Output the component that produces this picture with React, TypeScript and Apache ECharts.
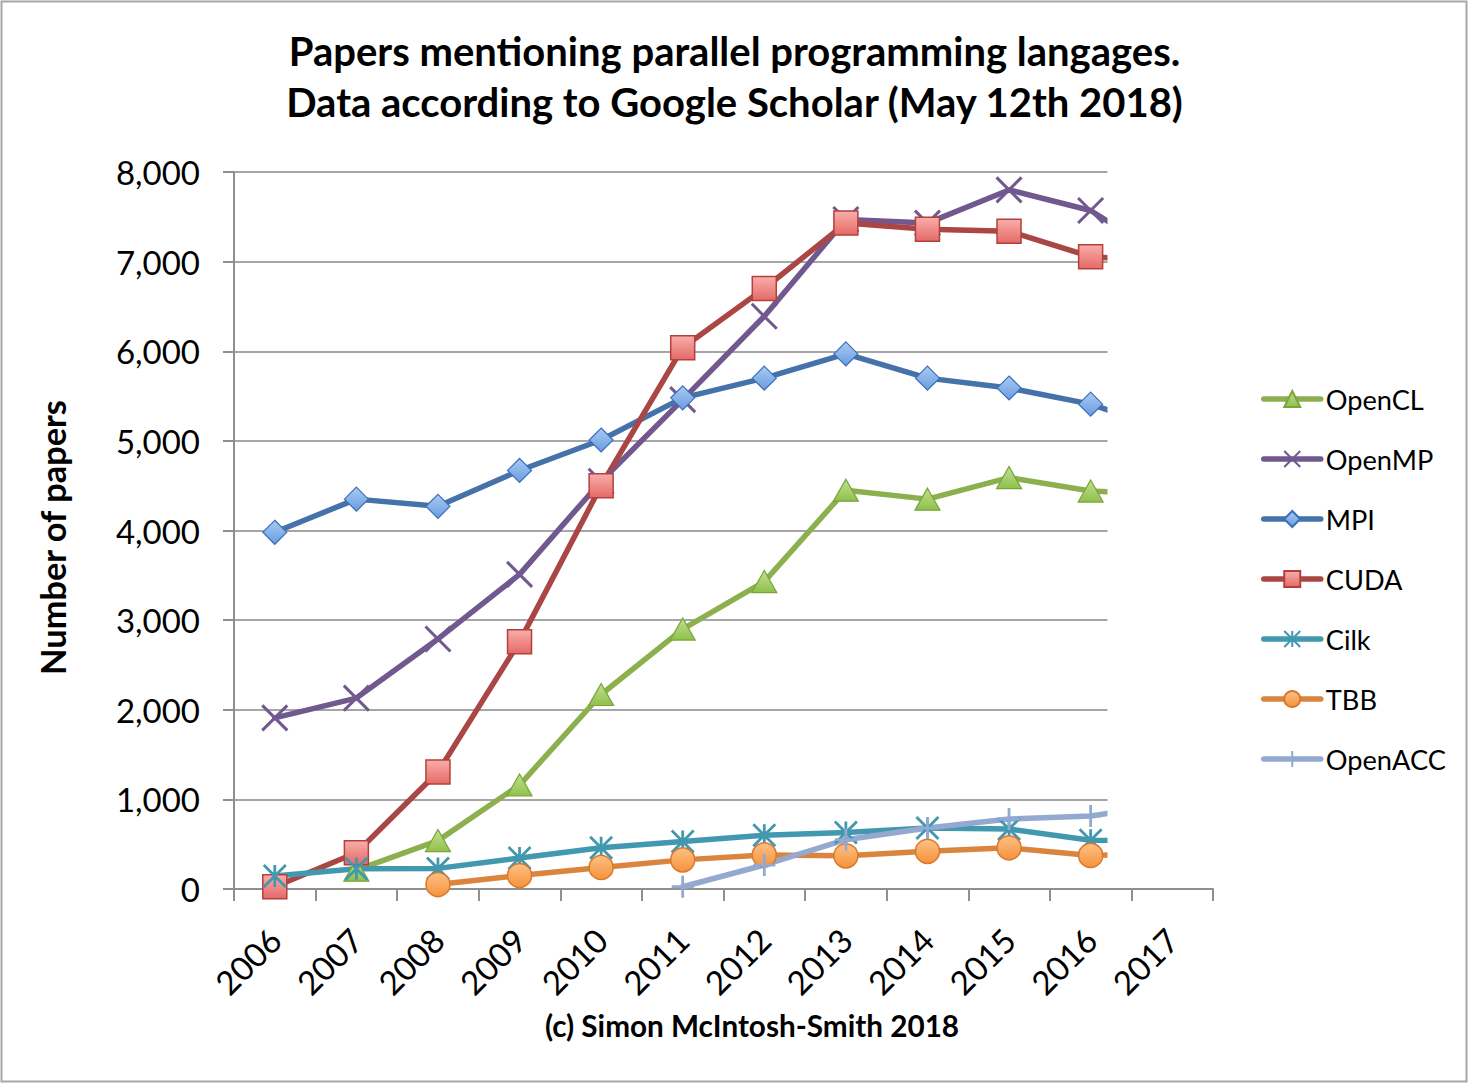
import React, { useEffect, useRef } from "react";
import * as echarts from "echarts";

const years = ["2006", "2007", "2008", "2009", "2010", "2011", "2012", "2013", "2014", "2015", "2016", "2017"];
const yTickLabels = ["0", "1,000", "2,000", "3,000", "4,000", "5,000", "6,000", "7,000", "8,000"];
const titleLines = [
  "Papers mentioning parallel programming langages.",
  "Data according to Google Scholar (May 12th 2018)",
];
const yAxisTitle = "Number of papers";
const footerText = "(c) Simon McIntosh-Smith 2018";

const seriesNames = ["OpenCL", "OpenMP", "MPI", "CUDA", "Cilk", "TBB", "OpenACC"];
const openCL = [null, 210, 540, 1160, 2170, 2900, 3430, 4450, 4350, 4590, 4440, 4400];
const openMP = [1910, 2130, 2790, 3510, 4550, 5460, 6390, 7470, 7430, 7800, 7570, 7000];
const mpi = [3980, 4350, 4270, 4670, 5010, 5480, 5700, 5970, 5700, 5590, 5410, 5100];
const cuda = [25, 405, 1305, 2760, 4500, 6040, 6700, 7430, 7360, 7340, 7055, 7000];
const cilk = [145, 225, 230, 345, 460, 530, 600, 630, 680, 670, 545, 540];
const tbb = [null, null, 50, 150, 240, 325, 380, 370, 420, 460, 375, 400];
const openACC = [null, null, null, null, null, 25, 268, 550, 680, 780, 815, 950];

const FONT = "Lato, 'Noto Sans', 'DejaVu Sans', sans-serif";
const AXIS = "#8f8f8f";
const GRID = "#a6a6a6";

function fit(text: string, weight: string, target: number): number {
  const ctx = document.createElement("canvas").getContext("2d");
  if (!ctx) return 30;
  ctx.font = `${weight} 100px ${FONT}`;
  const w = ctx.measureText(text).width;
  return Math.round(((100 * target) / w) * 10) / 10;
}

const grad = (a: string, b: string) =>
  new echarts.graphic.LinearGradient(0, 0, 0, 1, [
    { offset: 0, color: a },
    { offset: 1, color: b },
  ]);

const X_PATH = "path://M0,0L10,10M10,0L0,10";
const STAR_PATH = "path://M0,0L10,10M10,0L0,10M5,0L5,10";
const PLUS_PATH = "path://M5,0L5,10M0,5L10,5";

export default function App() {
  const ref = useRef<HTMLDivElement>(null);

  useEffect(() => {
    document.body.style.margin = "0";
    document.body.style.overflow = "hidden";
    if (!ref.current) return;
    const chart = echarts.init(ref.current, null, { renderer: "svg" });

    const titleSize = fit(titleLines[0], "bold", 892);
    const footerSize = fit(footerText, "bold", 415);
    const nameSize = fit(yAxisTitle, "bold", 276);
    const legendSize = fit("OpenACC", "normal", 120);
    const axisSize = fit("8,000", "normal", 84);

    const lineSeries = (
      name: string,
      data: (number | null)[],
      lineColor: string,
      symbol: string,
      symbolSize: number | number[],
      fill: any,
      border: string,
      borderWidth: number
    ) => ({
      name,
      type: "line",
      data,
      symbol,
      symbolSize,
      showAllSymbol: true,
      connectNulls: false,
      lineStyle: { color: lineColor, width: 5.5, cap: "round", join: "round" },
      itemStyle: { color: fill, borderColor: border, borderWidth },
      emphasis: { disabled: true },
    });

    const option: any = {
      animation: false,
      backgroundColor: "#ffffff",
      title: {
        text: titleLines.join("\n"),
        left: "center",
        top: 25,
        padding: 0,
        textStyle: {
          fontFamily: FONT,
          fontWeight: "bold",
          fontSize: titleSize,
          lineHeight: 51,
          color: "#000",
        },
      },
      legend: {
        orient: "vertical",
        left: 1261,
        top: 384,
        padding: 0,
        itemWidth: 57,
        itemHeight: 20,
        itemGap: 30,
        data: seriesNames,
        textStyle: { fontFamily: FONT, fontSize: legendSize, color: "#000", lineHeight: 30 },
        lineStyle: { width: 5.5, cap: "round" },
      },
      grid: { left: 234, top: 172, width: 979, height: 717 },
      xAxis: {
        type: "category",
        data: years,
        boundaryGap: true,
        axisLine: { show: true, lineStyle: { color: AXIS, width: 2 } },
        axisTick: { show: true, interval: 0, length: 12, lineStyle: { color: AXIS, width: 2 } },
        axisLabel: {
          interval: 0,
          rotate: 45,
          margin: 45,
          fontFamily: FONT,
          fontSize: axisSize,
          color: "#000",
        },
        splitLine: { show: false },
      },
      yAxis: {
        type: "value",
        min: 0,
        max: 8000,
        interval: 1000,
        name: yAxisTitle,
        nameLocation: "middle",
        nameRotate: 90,
        nameGap: 165,
        nameTextStyle: {
          fontFamily: FONT,
          fontWeight: "bold",
          fontSize: nameSize,
          color: "#000",
          padding: [0, 14, 0, 0],
        },
        axisLine: { show: true, lineStyle: { color: AXIS, width: 2 } },
        axisTick: { show: true, length: 11, lineStyle: { color: AXIS, width: 2 } },
        axisLabel: {
          margin: 34,
          fontFamily: FONT,
          fontSize: axisSize,
          color: "#000",
          formatter: (v: number) => yTickLabels[Math.round(v / 1000)] ?? "",
        },
        splitLine: { show: true, lineStyle: { color: GRID, width: 2 } },
      },
      graphic: [
        {
          type: "rect",
          z: 100,
          shape: { x: 1107.5, y: 150, width: 112, height: 737.5 },
          style: { fill: "#ffffff" },
          silent: true,
        },
        {
          type: "rect",
          z: 100,
          shape: { x: 1.5, y: 1.5, width: 1465, height: 1080 },
          style: { fill: "none", stroke: "#a6a6a6", lineWidth: 2 },
          silent: true,
        },
        {
          type: "text",
          z: 100,
          x: 752,
          y: 1025,
          style: {
            text: footerText,
            fontFamily: FONT,
            fontWeight: "bold",
            fontSize: footerSize,
            fill: "#000",
            align: "center",
            verticalAlign: "middle",
          },
        },
      ],
      series: [
        lineSeries("OpenCL", openCL, "#8db04f", "triangle", [25, 22], grad("#c2e08e", "#8fc04c"), "#79a53c", 1.2),
        lineSeries("OpenMP", openMP, "#71588f", X_PATH, 25, "#71588f", "#71588f", 3),
        lineSeries("MPI", mpi, "#4472a9", "diamond", 24, grad("#a9cbf3", "#6a9be0"), "#3c6fb6", 1.2),
        lineSeries("CUDA", cuda, "#aa4643", "rect", 24, grad("#f8aeab", "#e46a66"), "#b3403c", 1.5),
        lineSeries("Cilk", cilk, "#4198af", STAR_PATH, 22, "#4198af", "#4198af", 2.8),
        lineSeries("TBB", tbb, "#db843d", "circle", 24, grad("#fcc187", "#f6923a"), "#d9792e", 1.5),
        lineSeries("OpenACC", openACC, "#93a9cf", PLUS_PATH, 22, "#93a9cf", "#93a9cf", 2.8),
      ],
    };

    chart.setOption(option);
    return () => chart.dispose();
  }, []);

  return (
    <div
      ref={ref}
      style={{ position: "absolute", left: 0, top: 0, width: 1469, height: 1084 }}
    />
  );
}
